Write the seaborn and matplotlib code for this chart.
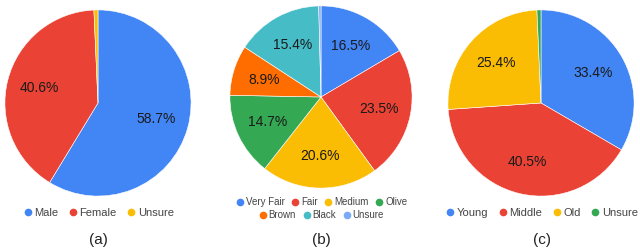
import matplotlib
matplotlib.use('Agg')
import matplotlib.pyplot as plt
from matplotlib.lines import Line2D
import seaborn as sns

# Data
gender_labels = ['Male', 'Female', 'Unsure']
gender_values = [58.7, 40.6, 0.7]

skin_labels = ['Very Fair', 'Fair', 'Medium', 'Olive', 'Brown', 'Black', 'Unsure']
skin_values = [16.5, 23.5, 20.6, 14.7, 8.9, 15.4, 0.4]

age_labels = ['Young', 'Middle', 'Old', 'Unsure']
age_values = [33.4, 40.5, 25.4, 0.7]

captions = ['(a)', '(b)', '(c)']

BLUE, RED, YELLOW, GREEN = '#4285F4', '#EA4335', '#FBBC04', '#34A853'
ORANGE, TEAL, LIGHTBLUE = '#FF6D01', '#46BDC6', '#7BAAF7'

gender_colors = [BLUE, RED, YELLOW]
skin_colors = [BLUE, RED, YELLOW, GREEN, ORANGE, TEAL, LIGHTBLUE]
age_colors = [BLUE, RED, YELLOW, GREEN]

sns.set_theme(style='white')
plt.rcParams['font.family'] = ['Liberation Sans', 'DejaVu Sans']

W, H = 640, 250
fig = plt.figure(figsize=(6.4, 2.5), dpi=100)


def pie_axes(cx, cy, r):
    # pixel centre / radius -> figure coords (y from top)
    return fig.add_axes([(cx - r) / W, (H - cy - r) / H, 2 * r / W, 2 * r / H])


def draw_pie(ax, values, colors):
    ax.pie(values, colors=colors, startangle=90, counterclock=False,
           autopct=lambda p: f'{p:.1f}%' if p > 1 else '',
           pctdistance=0.65, radius=1,
           wedgeprops=dict(linewidth=0.4, edgecolor='white'),
           textprops=dict(fontsize=10, color='#1a1a1a'))
    ax.set_xlim(-1.01, 1.01)
    ax.set_ylim(-1.01, 1.01)
    ax.set_aspect('equal')
    ax.axis('off')


def add_legend(labels, colors, cx, cy, size=8, spacing=0.8):
    handles = [Line2D([], [], marker='o', linestyle='', markersize=4.5,
                      markerfacecolor=c, markeredgecolor=c) for c in colors]
    fig.legend(handles, labels, loc='center', ncol=len(labels),
               bbox_to_anchor=(cx / W, 1 - cy / H), frameon=False,
               fontsize=size, handletextpad=0.1, columnspacing=spacing,
               handlelength=1.0, borderpad=0, labelcolor='#444444')


ax_a = pie_axes(98, 103, 94)
draw_pie(ax_a, gender_values, gender_colors)
add_legend(gender_labels, gender_colors, 98, 213)

ax_b = pie_axes(321, 97, 92)
draw_pie(ax_b, skin_values, skin_colors)
add_legend(skin_labels[:4], skin_colors[:4], 321, 202, size=7, spacing=0.6)
add_legend(skin_labels[4:], skin_colors[4:], 321, 215, size=7, spacing=0.6)

ax_c = pie_axes(541, 103, 94)
draw_pie(ax_c, age_values, age_colors)
add_legend(age_labels, age_colors, 541, 213)

for cap, cx in zip(captions, [98, 321, 542]):
    fig.text(cx / W, 1 - 240 / H, cap, ha='center', va='center',
             fontsize=11, color='#222222')

fig.savefig('out.png', dpi=100)
